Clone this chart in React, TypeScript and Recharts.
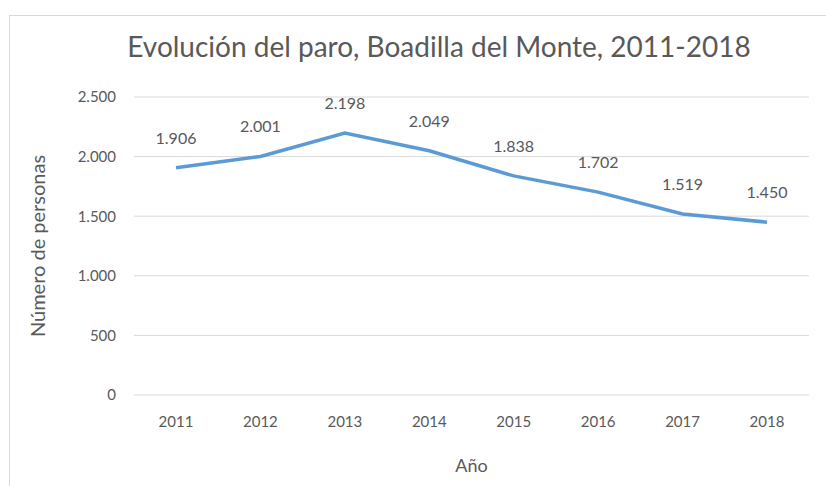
import { LineChart, Line, XAxis, YAxis, CartesianGrid, LabelList, Label } from 'recharts'

const years = ['2011', '2012', '2013', '2014', '2015', '2016', '2017', '2018']
const parados = [1906, 2001, 2198, 2049, 1838, 1702, 1519, 1450]
const yTicks = [0, 500, 1000, 1500, 2000, 2500]

const FONT = 'Lato, "Open Sans", sans-serif'
const GREY = '#595959'

// es-ES won't group 4-digit numbers, so do it by hand
const formatMiles = (value: number) =>
  String(value).replace(/\B(?=(\d{3})+(?!\d))/g, '.')

export default function App() {
  const data = years.map((year, i) => ({ year, parados: parados[i] }))

  return (
    <div style={{ position: 'absolute', left: 0, top: 0, width: 826, height: 486, overflow: 'hidden', background: '#fff', fontFamily: FONT }}>
      <div style={{ position: 'absolute', left: 9, top: 15, width: 900, height: 600, border: '1px solid #d9d9d9' }} />
      <div style={{ position: 'absolute', left: 0, top: 29, width: 878, textAlign: 'center', fontSize: 28, color: GREY }}>
        Evolución del paro, Boadilla del Monte, 2011-2018
      </div>
      <div style={{ position: 'absolute', left: 0, top: 0 }}>
        <LineChart width={826} height={486} data={data} margin={{ top: 97, right: 17, left: 0, bottom: 61 }}>
          <CartesianGrid vertical={false} stroke="#d9d9d9" />
          <XAxis
            dataKey="year"
            padding={{ left: 42, right: 42 }}
            axisLine={false}
            tickLine={false}
            tickSize={0}
            tickMargin={21}
            tick={{ fill: GREY, fontSize: 15, fontFamily: FONT }}
          >
            <Label value="Año" position="bottom" offset={34} fill={GREY} fontSize={18} fontFamily={FONT} />
          </XAxis>
          <YAxis
            width={134}
            domain={[0, 2500]}
            ticks={yTicks}
            axisLine={false}
            tickLine={false}
            tickSize={0}
            tickMargin={18}
            tickFormatter={formatMiles}
            tick={{ fill: GREY, fontSize: 15, fontFamily: FONT }}
          >
            <Label value="Número de personas" angle={-90} position="insideLeft" offset={38} fill={GREY} fontSize={20} fontFamily={FONT} style={{ textAnchor: 'middle' }} />
          </YAxis>
          <Line
            type="linear"
            dataKey="parados"
            stroke="#5b9bd5"
            strokeWidth={3.5}
            dot={false}
            isAnimationActive={false}
          >
            <LabelList dataKey="parados" position="top" offset={24} formatter={(v: number) => formatMiles(v)} fill={GREY} fontSize={16} fontFamily={FONT} />
          </Line>
        </LineChart>
      </div>
    </div>
  )
}
